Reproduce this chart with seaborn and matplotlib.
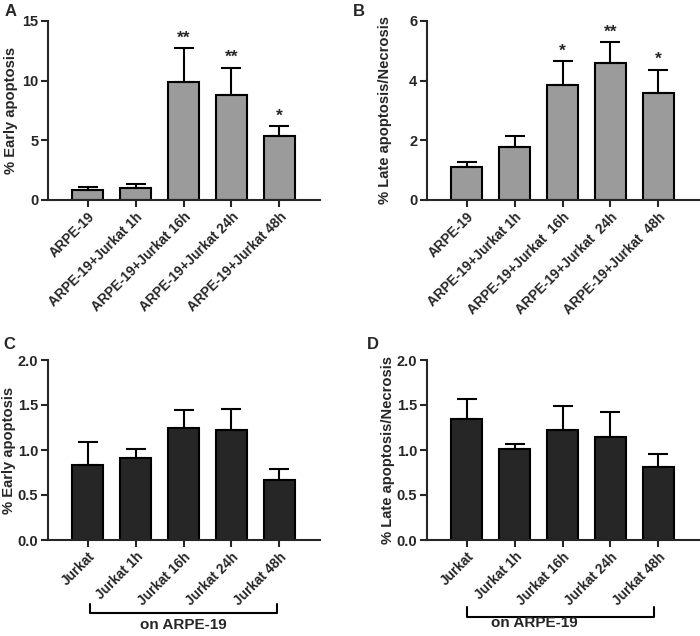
import numpy as np
import pandas as pd
import matplotlib
matplotlib.use("Agg")
from matplotlib import pyplot as plt
from matplotlib import transforms
import seaborn as sns

# 数据
cats_top = ["ARPE-19", "ARPE-19+Jurkat 1h", "ARPE-19+Jurkat 16h",
            "ARPE-19+Jurkat 24h", "ARPE-19+Jurkat 48h"]
cats_top_b = ["ARPE-19", "ARPE-19+Jurkat 1h", "ARPE-19+Jurkat  16h",
              "ARPE-19+Jurkat  24h", "ARPE-19+Jurkat  48h"]
cats_bottom = ["Jurkat", "Jurkat 1h", "Jurkat 16h", "Jurkat 24h", "Jurkat 48h"]

early_top = [0.8, 1.0, 9.9, 8.8, 5.4]
early_top_err = [0.25, 0.3, 2.8, 2.3, 0.8]
early_top_stars = ["", "", "**", "**", "*"]

late_top = [1.1, 1.77, 3.86, 4.6, 3.6]
late_top_err = [0.17, 0.38, 0.79, 0.68, 0.77]
late_top_stars = ["", "", "*", "**", "*"]

early_bottom = [0.83, 0.91, 1.25, 1.22, 0.67]
early_bottom_err = [0.26, 0.10, 0.19, 0.24, 0.12]

late_bottom = [1.35, 1.01, 1.22, 1.14, 0.81]
late_bottom_err = [0.22, 0.06, 0.27, 0.28, 0.15]

sns.set_style("ticks")
plt.rcParams['font.family'] = ['Liberation Sans', 'DejaVu Sans']
plt.rcParams['font.weight'] = 'bold'

fig = plt.figure(figsize=(7, 6.36), dpi=100)

W, H = 700.0, 636.0
def box(x0, x1, ytop, ybot):
    return [x0 / W, 1 - ybot / H, (x1 - x0) / W, (ybot - ytop) / H]

GREY = "#9b9b9b"
DARK = "#262626"


def panel(rect, cats, vals, errs, color, ylim, yticks, ylabel, yfmt, ylab_x, stars=None):
    ax = fig.add_axes(rect)
    df = pd.DataFrame({"cat": cats, "val": vals})
    sns.barplot(data=df, x="cat", y="val", color=color, width=0.64,
                edgecolor="black", linewidth=1.5, errorbar=None, ax=ax,
                saturation=1)
    xs = [p.get_x() + p.get_width() / 2 for p in ax.patches]
    ax.errorbar(xs, vals, yerr=[np.zeros(len(vals)), errs], fmt="none",
                ecolor="black", elinewidth=1.5, capsize=7, capthick=1.5,
                zorder=1)
    if stars:
        for x, v, e, s in zip(xs, vals, errs, stars):
            if s:
                ax.text(x, v + e + (ylim[1] * 0.015), s, ha="center", va="bottom",
                        fontsize=12.5, fontweight="bold")
    ax.set_xlim(-0.83, 4.85)
    ax.set_ylim(*ylim)
    ax.set_yticks(yticks)
    ax.set_yticklabels([yfmt.format(t) for t in yticks], fontsize=10.5, fontweight="bold")
    ax.set_xticks(range(len(cats)))
    ax.set_xticklabels(cats, rotation=45, ha="right", rotation_mode="anchor",
                       fontsize=9.8, fontweight="bold")
    ax.set_xlabel("")
    ax.set_ylabel(ylabel, fontsize=10.6, fontweight="bold", va="center")
    # label centre, in figure pixels
    x0 = rect[0] * W
    ax.yaxis.set_label_coords((ylab_x - x0) / (rect[2] * W), 0.5)
    sns.despine(ax=ax)
    for s in ["left", "bottom"]:
        ax.spines[s].set_linewidth(1.5)
    ax.tick_params(axis="both", width=1.5, length=5, pad=2)
    return ax


axA = panel(box(48, 320, 21, 200), cats_top, early_top, early_top_err, GREY,
            (0, 15), [0, 5, 10, 15], "% Early apoptosis", "{:.0f}", 11, early_top_stars)
axB = panel(box(427, 699, 21, 200), cats_top_b, late_top, late_top_err, GREY,
            (0, 6), [0, 2, 4, 6], "% Late apoptosis/Necrosis", "{:.0f}", 385, late_top_stars)
axC = panel(box(48, 320, 360, 540), cats_bottom, early_bottom, early_bottom_err, DARK,
            (0, 2), [0, 0.5, 1.0, 1.5, 2.0], "% Early apoptosis", "{:.1f}", 9)
axD = panel(box(427, 699, 360, 540), cats_bottom, late_bottom, late_bottom_err, DARK,
            (0, 2), [0, 0.5, 1.0, 1.5, 2.0], "% Late apoptosis/Necrosis", "{:.1f}", 388)

# brackets "on ARPE-19"
for ax, x0, x1, yh, yt, ytxt, xtxt in [(axC, 0.04, 3.95, 613, 604, 625, 2.0),
                                       (axD, 0.0, 3.9, 617, 607, 623, 1.42)]:
    tr = transforms.blended_transform_factory(ax.transData, fig.transFigure)
    ax.plot([x0, x0, x1, x1], [1 - yt / H, 1 - yh / H, 1 - yh / H, 1 - yt / H],
            color="black", lw=1.5, transform=tr, clip_on=False)
    ax.text(xtxt, 1 - ytxt / H, "on ARPE-19", transform=tr, ha="center", va="center",
            fontsize=11, fontweight="bold")

for lbl, x, y in [("A", 5, 4), ("B", 353, 4), ("C", 3, 337), ("D", 367, 337)]:
    fig.text(x / W, 1 - y / H, lbl, ha="left", va="top", fontsize=12, fontweight="bold")

fig.savefig("out.png", dpi=100)
